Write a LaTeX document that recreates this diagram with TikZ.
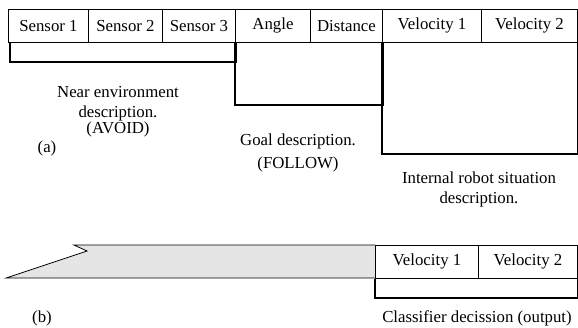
\documentclass[tikz,border=0pt]{standalone}
\usepackage{fontspec}
\setmainfont{Liberation Serif}
\usetikzlibrary{positioning}

\tikzset{
  cell/.style={draw, line width=0.9pt, anchor=north west, minimum height=33pt,
    inner sep=0pt, font=\fontsize{16.8}{20}\selectfont},
  bracket/.style={line width=1.6pt},
  lbl/.style={align=center, inner sep=0pt, font=\fontsize{16.8}{20}\selectfont}
}

\begin{document}
\begin{tikzpicture}[x=1pt, y=-1pt]
    \useasboundingbox (0,0) rectangle (578,327);

    % (a) input string
    \foreach \name/\x/\w/\txt in {s1/8/80/Sensor 1, s2/88/74/Sensor 2, s3/162/73/Sensor 3,
        ang/235/75/Angle, dist/310/72/Distance, va/382/99/Velocity 1, vb/481/96/Velocity 2} {
        \node[cell, minimum width=\w pt] (\name) at (\x,9) {\txt};
    }

    % Groups of the input
    \draw[bracket] ([xshift=2pt]s1.south west) -- ++(0,19) -| (s3.south east);
    \draw[bracket] (ang.south west) -- ++(0,62) -| (dist.south east);
    \draw[bracket] (va.south west) -- ++(0,111) -| (vb.south east);

    \node[lbl] (near) at (118,104) {Near environment\\description.};
    \node[lbl] (avoid) at (118,129) {(AVOID)};
    \node[lbl] (goal) at (298,141) {Goal description.};
    \node[lbl] (follow) at (298,164) {(FOLLOW)};
    \node[lbl] (internal) at (479,189) {Internal robot situation\\description.};
    \node[lbl] (parta) at (47,148) {(a)};

    % (b) output string
    \filldraw[fill=black!10, line width=0.8pt] (375,245) -- (74,245) -- (87,251) -- (6,278) -- (375,278);
    \node[cell, minimum width=103pt] (ova) at (375,245) {Velocity 1};
    \node[cell, minimum width=99pt] (ovb) at (478,245) {Velocity 2};
    \draw[bracket] (ova.south west) -- ++(0,19) -| (ovb.south east);

    \node[lbl] (partb) at (42,318) {(b)};
    \node[lbl] (output) at (477,318) {Classifier decission (output)};
\end{tikzpicture}
\end{document}
